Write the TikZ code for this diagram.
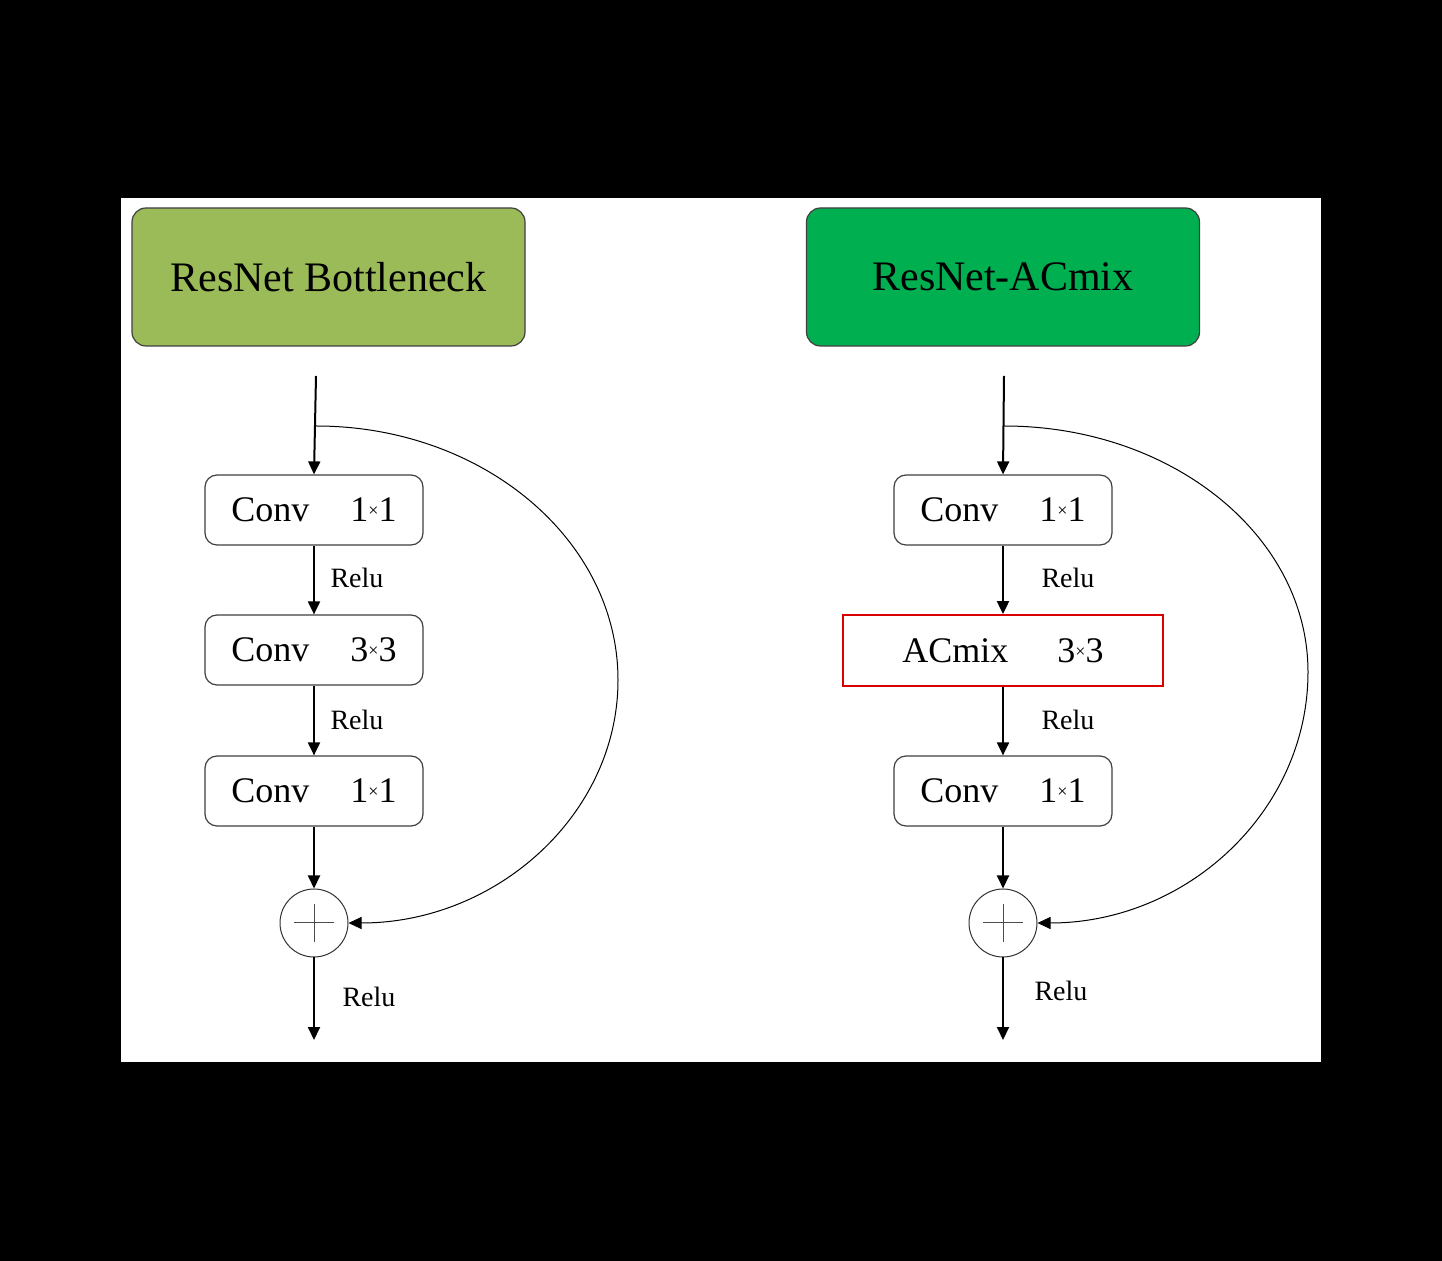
\documentclass[tikz,border=0pt]{standalone}
\usepackage{fontspec}
\setmainfont{Liberation Serif}
\usetikzlibrary{arrows.meta}
\newcommand\smalltimes{\raisebox{2.5pt}{\fontsize{9}{9}\selectfont ×}}
\begin{document}
\begin{tikzpicture}[x=0.5pt,y=-0.5pt,
  hdr/.style={draw=black!75, line width=0.6pt, rounded corners=7pt, minimum width=196.5pt, minimum height=69pt, inner sep=0pt, font=\fontsize{21}{24}\selectfont},
  blk/.style={draw=black!75, line width=0.6pt, rounded corners=6pt, fill=white, minimum width=109pt, minimum height=35pt, inner sep=0pt, font=\fontsize{18}{20}\selectfont},
  redblk/.style={draw=red!85!black, line width=0.9pt, fill=white, minimum width=160pt, minimum height=35.5pt, inner sep=0pt, font=\fontsize{18}{20}\selectfont},
  sumnode/.style={circle, draw=black!80, line width=0.5pt, minimum size=34pt, inner sep=0pt},
  flow/.style={line width=1pt, -{Triangle[length=6.5pt,width=6pt]}},
  skipline/.style={line width=0.5pt, -{Triangle[length=6.5pt,width=6pt]}},
  plusline/.style={line width=0.5pt, draw=black!70},
  lbl/.style={font=\fontsize{14}{16}\selectfont, inner sep=0pt}
]
% background
\fill[black] (0,0) rectangle (1442,1261);
\fill[white] (121,198) rectangle (1321,1062);

% ---------------- left column ----------------
\node[hdr, fill={rgb,255:red,155;green,187;blue,89}] (h1) at (328.5,277) {ResNet Bottleneck};
\coordinate (in1) at (316,376);
\coordinate (sk1) at (316,426);
\node[blk] (a1) at (314,510) {Conv\hspace{20.5pt}1\smalltimes1};
\node[blk] (a2) at (314,650) {Conv\hspace{20.5pt}3\smalltimes3};
\node[blk] (a3) at (314,791) {Conv\hspace{20.5pt}1\smalltimes1};
\node[sumnode] (s1) at (314,923) {};
\coordinate (out1) at (314,1040);
\draw[plusline] (s1.center) ++(-20,0) -- ++(40,0);
\draw[plusline] (s1.center) ++(0,-19) -- ++(0,38);

\draw[flow] (in1) -- (a1.north);
\draw[flow] (a1.south) -- (a2.north);
\draw[flow] (a2.south) -- (a3.north);
\draw[flow] (a3.south) -- (s1.north);
\draw[flow] (s1.south) -- (out1);
\node[lbl] (r1) at (357,578) {Relu};
\node[lbl] (r2) at (357,720) {Relu};
\node[lbl] (r3) at (369,997) {Relu};
\draw[skipline] (sk1) .. controls (483,426) and (618,540) .. (618,680)
  .. controls (618,814) and (497,923) .. (s1.east);

% ---------------- right column ----------------
\node[hdr, fill={rgb,255:red,0;green,176;blue,80}] (h2) at (1003,277) {ResNet-ACmix};
\coordinate (in2) at (1004,376);
\coordinate (sk2) at (1004,426);
\node[blk] (b1) at (1003,510) {Conv\hspace{20.5pt}1\smalltimes1};
\node[redblk] (b2) at (1003,650.5) {ACmix\hspace{24.5pt}3\smalltimes3};
\node[blk] (b3) at (1003,791) {Conv\hspace{20.5pt}1\smalltimes1};
\node[sumnode] (s2) at (1003,923) {};
\coordinate (out2) at (1003,1040);
\draw[plusline] (s2.center) ++(-20,0) -- ++(40,0);
\draw[plusline] (s2.center) ++(0,-19) -- ++(0,38);

\draw[flow] (in2) -- (b1.north);
\draw[flow] (b1.south) -- (b2.north);
\draw[flow] (b2.south) -- (b3.north);
\draw[flow] (b3.south) -- (s2.north);
\draw[flow] (s2.south) -- (out2);
\node[lbl] (q1) at (1068,578) {Relu};
\node[lbl] (q2) at (1068,720) {Relu};
\node[lbl] (q3) at (1061,991) {Relu};
\draw[skipline] (sk2) .. controls (1172,426) and (1308,536) .. (1308,672)
  .. controls (1308,811) and (1187,923) .. (s2.east);
\end{tikzpicture}
\end{document}
